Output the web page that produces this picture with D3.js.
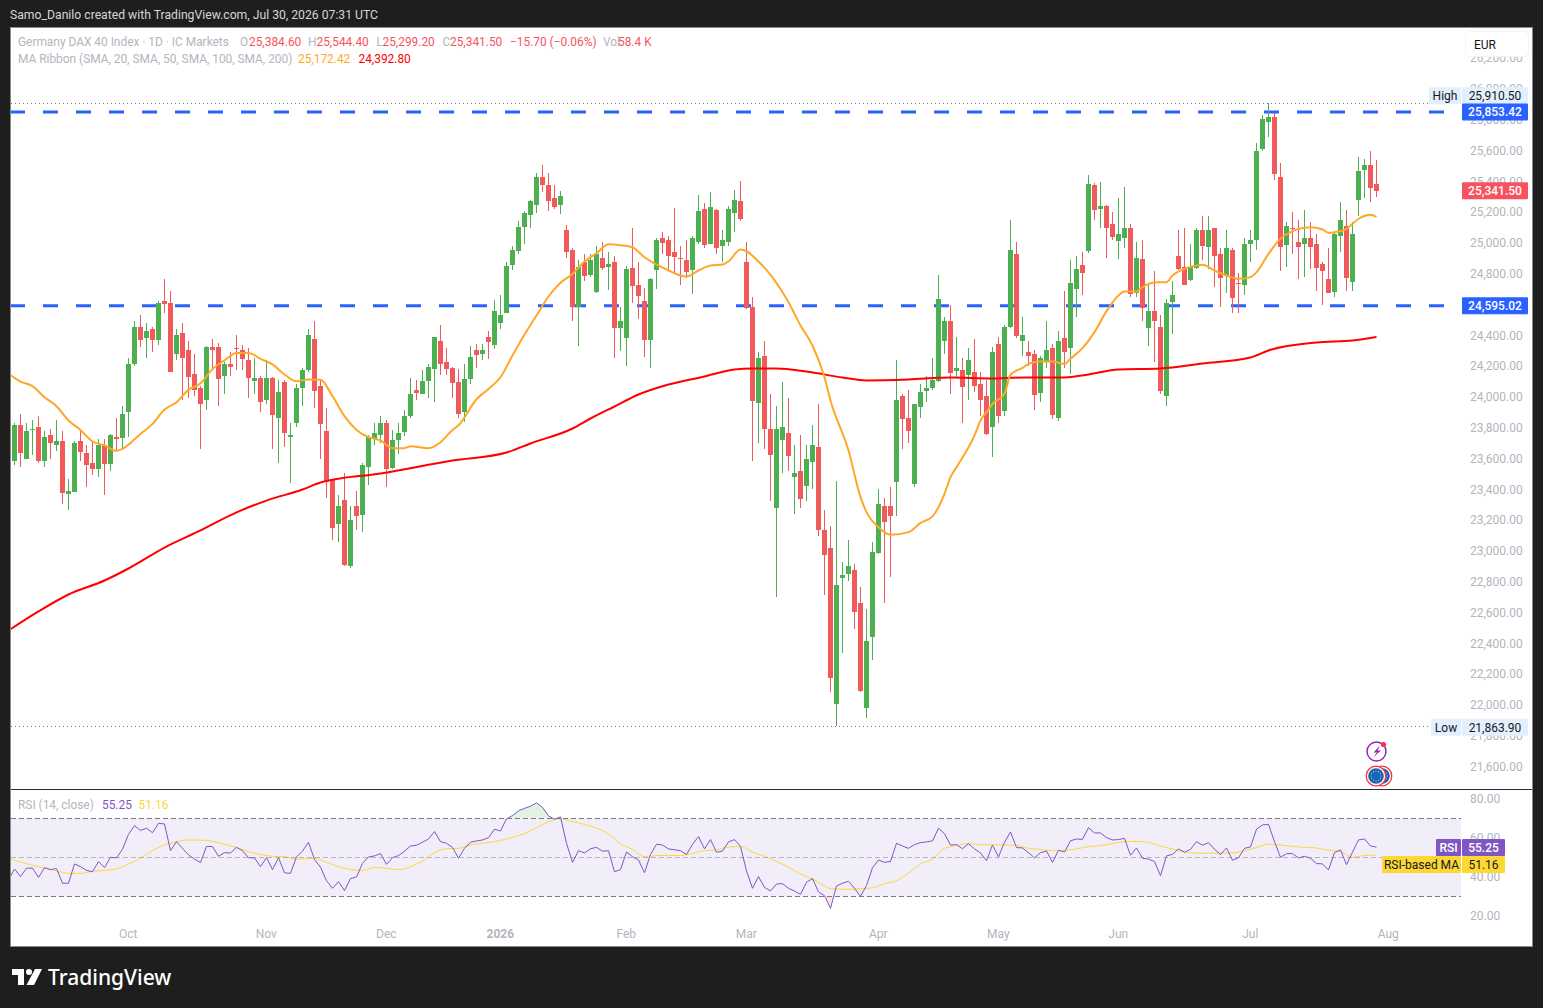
<!DOCTYPE html>
<html>
<head>
<meta charset="utf-8">
<script src="https://cdn.jsdelivr.net/npm/d3@7"></script>
<style>
  body { margin: 0; background: #1e1e1e; }
  svg { display: block; }
  text { font-family: Roboto, "Noto Sans", sans-serif; }
</style>
</head>
<body>
<div id="chart"></div>
<script>
//////////////////// data ////////////////////

var candleOpen = [
  23590,23824,23603,23792,23805,23590,23753,23694,23720,23376,
  23389,23714,23636,23571,23538,23694,23564,23746,23740,23902,
  24214,24460,24389,24441,24376,24623,24616,24285,24421,24311,
  24149,24064,23986,24330,24330,24136,24214,24318,24305,24240,
  24110,24123,23980,24123,23869,24097,23746,23831,24064,24175,
  24382,24071,23785,23467,23181,23337,22908,23292,23233,23545,
  23733,23759,23837,23545,23726,23772,23882,24045,24025,24109,
  24181,24363,24233,24194,24103,23908,24122,24311,24285,24389,
  24343,24486,24551,24856,24954,25109,25187,25252,25428,25382,
  25298,25252,25090,24960,24590,24882,24791,24681,24908,24850,
  24882,24454,24389,24843,24733,24629,24376,24830,25038,25019,
  24941,24902,24889,24824,25012,25226,24999,25220,24980,25012,
  25200,25278,24882,24584,23967,24272,23792,23279,23720,23766,
  23480,23525,23428,23584,23675,23136,23025,22006,22831,22856,
  22876,22668,21980,22441,22986,23298,23298,23454,24012,23863,
  23434,23941,24038,24058,24103,24363,24499,24168,24175,24149,
  24168,24090,24006,23805,24350,23915,24454,24928,24363,24292,
  24285,24025,24240,24324,23863,24383,24318,24707,24857,24947,
  25376,25220,25246,25123,25012,25038,25097,24675,24896,24454,
  24564,24454,24012,24616,24915,24850,24759,24837,25090,24973,
  25097,24934,24792,24954,24740,24727,24993,25025,25610,25792,
  25824,25434,24986,25103,25006,24999,25038,24999,24863,24772,
  24681,25051,25110,24753,25285,25473,25506,25384.6
];
var candleHigh = [
  23837,23889,23831,23856,23882,23785,23792,23856,23785,23467,
  23720,23785,23688,23720,23733,23727,23760,23869,23947,24259,
  24499,24538,24480,24454,24629,24772,24688,24447,24480,24363,
  24285,24077,24337,24382,24356,24227,24298,24408,24343,24318,
  24253,24142,24246,24130,24116,24110,23831,24084,24194,24441,
  24499,24116,23928,23473,23369,23506,23292,23389,23577,23759,
  23831,23882,23856,23791,23837,23921,24129,24116,24181,24220,
  24395,24473,24324,24200,24187,24220,24337,24350,24350,24434,
  24635,24668,24882,24980,25148,25213,25285,25454,25506,25454,
  25382,25343,25122,24967,24895,24934,24928,24986,25012,24941,
  24915,24584,24856,25097,24876,24713,24778,25032,25077,25045,
  25233,24980,25019,25051,25317,25265,25337,25225,25090,25246,
  25350,25402,25012,24655,24292,24363,24025,23947,24103,23993,
  23694,23759,23694,23818,23954,23266,23168,23460,22928,23077,
  22915,22772,22623,23058,23402,23350,23415,24246,24025,24045,
  23960,24090,24142,24253,24792,24519,24603,24389,24253,24324,
  24376,24162,24110,24330,24395,24473,25155,25012,24519,24363,
  24305,24272,24493,24344,24434,24694,24889,24915,24947,25441,
  25389,25396,25250,25201,25298,25363,25123,25006,25025,24740,
  24818,24538,24642,24753,25090,25103,24993,25097,25175,25181,
  25100,24967,25084,24967,24805,25038,25084,25655,25831,25910.5,
  25844,25525,25136,25201,25155,25214,25136,25058,24876,24973,
  25071,25266,25214,25136,25558,25551,25603,25544.4
];
var candleLow = [
  23558,23545,23600,23629,23577,23551,23597,23655,23311,23272,
  23385,23590,23415,23493,23486,23369,23525,23655,23668,23740,
  24207,24330,24259,24298,24343,24545,24162,24246,23980,23999,
  24012,23668,23915,24194,23941,24025,24136,24181,24175,23999,
  24025,23902,23960,23662,23571,23681,23447,23805,23941,24168,
  23928,23597,23350,23077,23064,22908,22889,23142,23129,23434,
  23688,23707,23421,23538,23635,23752,23863,23986,24019,23993,
  23967,24148,24148,23993,23869,23843,24090,24194,24246,24252,
  24317,24441,24545,24830,24934,24999,25097,25200,25337,25213,
  25226,25194,24902,24499,24337,24759,24785,24675,24830,24700,
  24259,24304,24207,24616,24512,24265,24194,24707,24934,24824,
  24804,24733,24778,24674,24993,24967,24995,24928,24876,24986,
  25077,25148,24571,23584,23701,23662,23330,22701,23512,23525,
  23240,23279,23330,23402,23103,22720,22084,21863.9,22343,22805,
  22499,22090,21921,22292,22980,22662,22837,23233,23662,23707,
  23415,23863,23973,24045,24097,24279,24019,24123,23837,23980,
  24038,23882,23753,23610,23837,23876,24450,24385,24266,24201,
  23921,23973,24188,23857,23850,24194,24155,24519,24662,24940,
  25155,25103,24902,25025,24896,24973,24655,24649,24499,24331,
  24227,24025,23941,24409,24825,24727,24755,24833,24889,24837,
  24720,24584,24675,24545,24551,24668,24876,24954,25603,25694,
  25409,24818,24850,24928,24772,24785,24831,24688,24603,24675,
  24649,24947,24688,24694,25181,25298,25266,25299.2
];
var candleClose = [
  23824,23642,23785,23798,23584,23746,23701,23720,23382,23395,
  23707,23642,23558,23532,23694,23571,23753,23733,23895,24214,
  24454,24376,24434,24369,24616,24603,24168,24408,24259,24136,
  24045,23960,24330,24311,24123,24214,24194,24311,24246,24123,
  24129,23967,24123,23882,24036,23766,23759,24058,24181,24402,
  24045,23824,23454,23149,23298,22915,23207,23227,23558,23740,
  23772,23837,23538,23726,23772,23876,24025,24025,24109,24200,
  24389,24213,24187,24097,23895,24122,24265,24278,24311,24356,
  24564,24538,24856,24954,25109,25200,25278,25434,25376,25278,
  25239,25311,24947,24590,24850,24791,24889,24928,24843,24869,
  24454,24499,24837,24726,24661,24376,24772,25025,25006,24915,
  24908,24895,24811,25032,25213,24993,25239,24973,25019,25226,
  25285,25161,24584,23973,24259,23798,23623,23792,23805,23616,
  23506,23343,23603,23694,23136,22973,22181,22779,22850,22908,
  22603,22097,22415,22993,23305,23194,23233,23986,23863,23779,
  23954,24038,24058,24110,24636,24493,24162,24188,24064,24246,
  24077,23986,23759,24292,23882,24460,24954,24395,24402,24266,
  24019,24253,24311,23889,24363,24292,24740,24837,24805,25383,
  25214,25240,25103,25038,25058,25103,24668,24902,24577,24564,
  24499,24038,24616,24662,24831,24733,24844,25084,24986,25084,
  24915,24779,24973,24642,24733,24993,25019,25603,25805,25824,
  25454,24980,25110,25097,24973,25038,24980,24844,24818,24681,
  25058,25155,24772,25064,25473,25506,25357.2,25341.5
];

// moving averages, read at the bars named in the Bars arrays
var sma20Bars = [-1,0,1,3,5,7,9,11,13,15,17,18,21,23,25,27,29,31,33,35,37,39,41,43,45,47,49,51,53,55,57,59,61,63,65,66,69,71,73,74,77,79,81,83,85,87,89,91,93,95,97,99,101,103,105,107,109,111,112,114,116,118,119,121,122,124,126,128,129,131,133,135,136,139,141,142,144,146,149,151,153,155,156,157,160,161,162,163,165,166,168,169,170,171,173,175,176,178,180,182,184,185,187,188,190,192,193,195,197,198,200,202,204,206,207,209,211,213,215,216,218,219,220,222,224,226,227];
var sma20Vals = [24155,24127,24103,24073,24001,23943,23850,23789,23714,23688,23653,23666,23763,23828,23921,23969,24049,24092,24185,24240,24289,24289,24250,24214,24149,24105,24116,24114,24008,23878,23789,23742,23720,23670,23670,23683,23670,23709,23789,23819,23988,24055,24131,24272,24408,24532,24655,24744,24802,24882,24936,24995,24988,24975,24910,24863,24824,24791,24785,24824,24856,24863,24884,24960,24949,24882,24796,24683,24618,24467,24337,24131,23980,23655,23352,23255,23157,23108,23125,23185,23227,23374,23482,23547,23753,23850,23904,23958,24023,24147,24192,24218,24229,24233,24233,24218,24251,24320,24424,24560,24662,24688,24688,24716,24746,24748,24792,24835,24857,24861,24824,24792,24770,24781,24813,24932,25030,25080,25101,25105,25090,25069,25073,25095,25160,25186,25172.42];
var sma200Bars = [-1,4,9,15,19,25,31,37,42,48,51,61,73,82,86,93,96,100,104,109,115,120,123,127,132,138,142,149,156,163,168,175,179,184,191,198,206,209,217,223,227];
var sma200Vals = [22486,22610,22720,22811,22889,23025,23136,23253,23330,23402,23447,23506,23590,23642,23701,23798,23863,23941,24019,24084,24136,24181,24188,24188,24168,24129,24110,24116,24129,24123,24129,24129,24149,24181,24188,24220,24259,24305,24357,24370,24392.8];

// RSI at every bar, the first value is the bar just off the left edge
var rsiVals = [38.5,
  44.0,40.1,44.4,44.5,39.7,44.7,43.7,44.2,36.7,36.7,
  46.6,45.2,43.3,42.6,47.8,44.7,50.0,49.7,54.1,61.8,
  66.2,63.8,64.9,62.6,67.4,67.1,53.4,58.0,54.6,51.2,
  49.1,47.3,55.6,55.5,50.5,52.4,52.2,55.1,53.4,49.8,
  49.7,45.2,49.8,43.7,49.8,42.0,41.8,50.2,53.2,57.7,
  48.8,44.9,38.0,34.1,37.5,32.9,39.1,39.9,46.9,50.2,
  50.7,51.9,46.4,49.8,50.9,53.1,55.8,56.2,57.7,59.4,
  63.2,58.0,57.2,55.1,49.5,54.6,57.7,58.4,58.9,60.1,
  64.4,63.5,69.7,71.4,73.8,75.1,76.2,77.9,75.6,71.2,
  69.5,70.7,57.2,47.4,53.4,52.2,54.4,55.1,53.1,53.4,
  42.6,43.7,52.7,50.3,48.6,42.1,51.5,56.7,56.3,54.3,
  53.9,53.4,51.4,56.7,60.6,54.3,59.1,52.6,53.2,57.9,
  59.1,55.6,43.0,34.1,40.1,34.6,32.7,36.3,36.5,34.1,
  32.7,31.0,37.2,39.1,32.2,30.3,23.8,35.3,36.7,37.7,
  34.1,30.0,35.5,44.7,48.6,47.4,47.9,57.2,55.8,54.6,
  56.5,57.5,57.9,58.4,64.9,62.1,56.3,56.5,54.4,57.0,
  54.3,52.2,48.3,56.3,50.2,57.7,63.0,55.0,54.8,52.4,
  49.7,52.4,53.2,47.4,53.6,52.7,58.5,59.4,59.2,65.2,
  62.5,62.5,60.1,58.9,59.1,59.7,51.0,54.8,49.5,49.1,
  47.8,40.6,50.7,51.5,54.3,52.6,54.1,58.0,56.2,57.5,
  54.1,51.4,54.8,48.5,49.8,54.6,55.3,64.4,66.6,66.9,
  58.0,50.0,51.9,51.9,49.7,50.5,49.5,46.8,46.6,43.5,
  52.4,53.8,46.2,52.7,58.9,59.4,55.8,55.25
];
var rsiMaBars = [-1,1,3,5,7,9,11,13,15,17,19,21,23,25,27,29,32,34,37,39,41,43,45,47,50,52,54,56,58,60,62,64,66,68,70,72,74,76,78,80,82,84,85,87,89,91,93,95,97,99,101,103,105,107,109,111,113,115,117,119,121,123,125,127,129,131,133,135,136,138,141,143,145,147,149,151,153,155,157,159,161,163,165,167,169,171,173,175,177,179,181,183,185,187,189,191,193,195,197,199,201,203,205,207,209,211,213,215,217,219,221,223,225,227];
var rsiMaVals = [49.3,47.6,45.9,44.4,43.0,41.8,41.8,42.8,43.3,44.0,46.6,49.5,53.4,56.3,58.0,58.9,58.7,57.4,55.0,52.9,51.5,50.5,50.3,49.0,49.5,47.4,45.2,43.7,43.3,44.7,44.4,43.7,45.2,48.1,52.4,54.4,54.6,56.3,57.2,58.0,59.4,61.1,62.1,65.2,68.3,69.8,68.3,66.9,64.9,62.0,56.8,54.1,50.3,50.9,51.0,50.9,52.1,53.4,53.8,55.3,55.5,52.7,50.5,47.9,44.9,41.3,38.9,35.3,33.9,33.6,33.9,34.3,36.5,38.0,41.8,46.6,49.1,54.6,56.0,57.0,56.5,56.5,56.3,56.2,54.6,54.1,53.4,53.6,54.3,55.5,56.0,57.0,58.0,58.2,57.7,55.8,54.3,52.7,52.1,52.1,52.1,52.2,53.4,55.0,56.8,56.3,55.6,55.1,54.8,53.6,52.9,50.0,50.9,51.16];

var priceTicks = [21600,21800,22000,22200,22400,22600,22800,23000,23200,23400,23600,23800,24000,24200,24400,24600,24800,25000,25200,25400,25600,25800,26000,26200];
var rsiTicks = [20,40,60,80];
var rsiLevels = [70,50,30];
var monthBars = [19,42,62,81,102,122,144,164,184,206,229];
var monthLabels = ["Oct","Nov","Dec","2026","Feb","Mar","Apr","May","Jun","Jul","Aug"];

var highLevel = 25910.5;
var lowLevel = 21863.9;
var blueLevels = [25853.42, 24595.02];
var lastClose = 25341.5;
var lastRsi = 55.25;
var lastRsiMa = 51.16;

//////////////////// set up the svg ////////////////////

var svgWidth = 1543;
var svgHeight = 1008;
var up = "#4caf50";
var down = "#f05a5a";
var axisGrey = "#b2b5be";

var svg = d3.select("#chart").append("svg")
  .attr("width", svgWidth)
  .attr("height", svgHeight);

svg.append("rect")
  .attr("x", 10.5).attr("y", 27.5)
  .attr("width", 1522).attr("height", 919)
  .attr("fill", "#fff")
  .attr("stroke", "#8a8a8a");

var defs = svg.append("defs");
defs.append("clipPath").attr("id", "mainClip").append("rect")
  .attr("x", 11).attr("y", 28).attr("width", 1450).attr("height", 761);
defs.append("clipPath").attr("id", "rsiClip").append("rect")
  .attr("x", 11).attr("y", 790).attr("width", 1450).attr("height", 156);
defs.append("clipPath").attr("id", "aboveClip").append("rect")
  .attr("x", 11).attr("y", 790).attr("width", 1450).attr("height", 28.3);
defs.append("clipPath").attr("id", "belowClip").append("rect")
  .attr("x", 11).attr("y", 896.3).attr("width", 1450).attr("height", 40);

var xScale = d3.scaleLinear().domain([0, 227]).range([14.5, 1376.5]);
var yScale = d3.scaleLinear().domain([21600, 25600]).range([767, 151]);
var rsiScale = d3.scaleLinear().domain([20, 80]).range([915.8, 798.8]);

//////////////////// candles ////////////////////

var mainPane = svg.append("g").attr("clip-path", "url(#mainClip)");

// level lines under the candles
mainPane.selectAll(".extreme")
  .data([highLevel, lowLevel])
  .enter()
  .append("line")
  .attr("x1", 11).attr("x2", 1429)
  .attr("y1", d => Math.round(yScale(d)) + 0.5)
  .attr("y2", d => Math.round(yScale(d)) + 0.5)
  .attr("stroke", "#787b86")
  .attr("stroke-dasharray", "1,3");

mainPane.selectAll(".blue")
  .data(blueLevels)
  .enter()
  .append("line")
  .attr("x1", 10).attr("x2", 1460)
  .attr("y1", d => yScale(d))
  .attr("y2", d => yScale(d))
  .attr("stroke", "#2962ff")
  .attr("stroke-width", 3)
  .attr("stroke-dasharray", "15,18");

var bars = d3.range(candleOpen.length);
var barColor = i => candleClose[i] >= candleOpen[i] ? up : down;

mainPane.selectAll(".wick")
  .data(bars)
  .enter()
  .append("rect")
  .attr("x", i => Math.floor(xScale(i)))
  .attr("width", 1)
  .attr("y", i => Math.round(yScale(candleHigh[i])))
  .attr("height", i => Math.max(1, Math.round(yScale(candleLow[i])) - Math.round(yScale(candleHigh[i]))))
  .attr("fill", barColor)
  .attr("shape-rendering", "crispEdges");

mainPane.selectAll(".body")
  .data(bars)
  .enter()
  .append("rect")
  .attr("x", i => xScale(i) - 2.5)
  .attr("width", 5)
  .attr("y", i => Math.round(yScale(Math.max(candleOpen[i], candleClose[i]))))
  .attr("height", i => Math.max(1, Math.round(Math.abs(yScale(candleOpen[i]) - yScale(candleClose[i])))))
  .attr("fill", barColor)
  .attr("shape-rendering", "crispEdges");

var maLine = d3.line()
  .x(d => xScale(d[0]))
  .y(d => yScale(d[1]))
  .curve(d3.curveMonotoneX);

mainPane.append("path")
  .attr("d", maLine(d3.zip(sma200Bars, sma200Vals)))
  .attr("fill", "none")
  .attr("stroke", "#ff0000")
  .attr("stroke-width", 2);

mainPane.append("path")
  .attr("d", maLine(d3.zip(sma20Bars, sma20Vals)))
  .attr("fill", "none")
  .attr("stroke", "#ffa726")
  .attr("stroke-width", 2);

//////////////////// RSI pane ////////////////////

var rsiPane = svg.append("g").attr("clip-path", "url(#rsiClip)");

rsiPane.append("rect")
  .attr("x", 11).attr("width", 1450)
  .attr("y", rsiScale(70))
  .attr("height", rsiScale(30) - rsiScale(70))
  .attr("fill", "#7e57c2")
  .attr("fill-opacity", 0.1);

var rsiPoints = rsiVals.map((v, i) => [i - 1, v]);

var aboveGrad = defs.append("linearGradient").attr("id", "aboveGrad").attr("x1", 0).attr("x2", 0).attr("y1", 0).attr("y2", 1);
aboveGrad.append("stop").attr("offset", "0%").attr("stop-color", up).attr("stop-opacity", 0.18);
aboveGrad.append("stop").attr("offset", "100%").attr("stop-color", up).attr("stop-opacity", 0);
var belowGrad = defs.append("linearGradient").attr("id", "belowGrad").attr("x1", 0).attr("x2", 0).attr("y1", 0).attr("y2", 1);
belowGrad.append("stop").attr("offset", "0%").attr("stop-color", down).attr("stop-opacity", 0);
belowGrad.append("stop").attr("offset", "100%").attr("stop-color", down).attr("stop-opacity", 0.18);

rsiPane.append("path")
  .attr("clip-path", "url(#aboveClip)")
  .attr("d", d3.area().x(d => xScale(d[0])).y0(rsiScale(70)).y1(d => rsiScale(d[1]))(rsiPoints))
  .attr("fill", "url(#aboveGrad)");

rsiPane.append("path")
  .attr("clip-path", "url(#belowClip)")
  .attr("d", d3.area().x(d => xScale(d[0])).y0(rsiScale(30)).y1(d => rsiScale(d[1]))(rsiPoints))
  .attr("fill", "url(#belowGrad)");

svg.selectAll(".rsiLevel")
  .data(rsiLevels)
  .enter()
  .append("line")
  .attr("x1", 11).attr("x2", 1461)
  .attr("y1", d => Math.round(rsiScale(d)) + 0.5)
  .attr("y2", d => Math.round(rsiScale(d)) + 0.5)
  .attr("stroke", "#787b86")
  .attr("stroke-opacity", d => d == 50 ? 0.5 : 1)
  .attr("stroke-dasharray", "5,3");

rsiPane.append("path")
  .attr("d", d3.line().x(d => xScale(d[0])).y(d => rsiScale(d[1])).curve(d3.curveMonotoneX)(d3.zip(rsiMaBars, rsiMaVals)))
  .attr("fill", "none")
  .attr("stroke", "#fdd835")
  .attr("stroke-width", 1);

rsiPane.append("path")
  .attr("d", d3.line().x(d => xScale(d[0])).y(d => rsiScale(d[1]))(rsiPoints))
  .attr("fill", "none")
  .attr("stroke", "#7e57c2")
  .attr("stroke-width", 1);

// pane divider
svg.append("line")
  .attr("x1", 11).attr("x2", 1532)
  .attr("y1", 789.5).attr("y2", 789.5)
  .attr("stroke", "#2a2e39");

//////////////////// axes ////////////////////

var priceAxis = d3.axisRight(yScale)
  .tickValues(priceTicks)
  .tickSize(0)
  .tickPadding(9)
  .tickFormat(d3.format(",.2f"));

var rsiAxis = d3.axisRight(rsiScale)
  .tickValues(rsiTicks)
  .tickSize(0)
  .tickPadding(9)
  .tickFormat(d3.format(".2f"));

var timeAxis = d3.axisBottom(xScale)
  .tickValues(monthBars)
  .tickSize(0)
  .tickPadding(0)
  .tickFormat((d, i) => monthLabels[i]);

var priceG = svg.append("g").attr("transform", "translate(1461,-0.5)").call(priceAxis);
var rsiG = svg.append("g").attr("transform", "translate(1461,0)").call(rsiAxis);
var timeG = svg.append("g").attr("transform", "translate(-0.7,929)").call(timeAxis);

[priceG, rsiG, timeG].forEach(function (g) {
  g.select(".domain").remove();
  g.selectAll("text")
    .attr("fill", axisGrey)
    .attr("font-size", 12)
    .style("font-family", 'Roboto, "Noto Sans", sans-serif');
});
timeG.selectAll("text").filter(d => d == 81).attr("font-weight", "bold");

//////////////////// price labels on the axis ////////////////////

function addLabel(y, x1, x2, fill, textFill, label, bold) {
  svg.append("rect")
    .attr("x", x1).attr("width", x2 - x1)
    .attr("y", y - 8.5).attr("height", 17)
    .attr("fill", fill)
    .attr("rx", 1);
  svg.append("text")
    .attr("x", x1 + (x2 - x1) / 2)
    .attr("y", y + 4.5)
    .attr("text-anchor", "middle")
    .attr("font-size", 12)
    .attr("font-weight", bold ? "500" : "normal")
    .attr("fill", textFill)
    .text(label);
}

var fmt = d3.format(",.2f");
var paleBlue = "#e3effd";

// the high label sits just above the blue level label
addLabel(yScale(highLevel) - 7.5, 1429, 1461, paleBlue, "#131722", "High");
addLabel(yScale(highLevel) - 7.5, 1462, 1528, paleBlue, "#131722", fmt(highLevel));
addLabel(yScale(lowLevel) + 1, 1431, 1461, paleBlue, "#131722", "Low");
addLabel(yScale(lowLevel) + 1, 1462, 1528, paleBlue, "#131722", fmt(lowLevel));
blueLevels.forEach(function (d) {
  addLabel(yScale(d), 1462, 1528, "#2962ff", "#fff", fmt(d), true);
});
addLabel(yScale(lastClose), 1462, 1528, "#f7525f", "#fff", fmt(lastClose), true);

addLabel(847.5, 1436, 1461, "#7e57c2", "#fff", "RSI", true);
addLabel(847.5, 1462, 1505, "#7e57c2", "#fff", lastRsi.toFixed(2), true);
addLabel(864.5, 1382, 1461, "#fdd835", "#131722", "RSI-based MA");
addLabel(864.5, 1462, 1505, "#fdd835", "#131722", lastRsiMa.toFixed(2));

// currency button
svg.append("rect")
  .attr("x", 1465.5).attr("y", 31.5)
  .attr("width", 63).attr("height", 25)
  .attr("rx", 4)
  .attr("fill", "#fff")
  .attr("stroke", "#f0f3fa");
svg.append("text")
  .attr("x", 1474).attr("y", 49)
  .attr("font-size", 12)
  .attr("fill", "#131722")
  .text("EUR");

//////////////////// legend text ////////////////////

function legend(x, y, label, color) {
  svg.append("text")
    .attr("x", x).attr("y", y)
    .attr("font-size", 11.9)
    .attr("fill", color)
    .text(label);
}

var red = "#f7525f";
legend(18, 46, "Germany DAX 40 Index · 1D · IC Markets", axisGrey);
legend(240, 46, "O", axisGrey);
legend(249, 46, "25,384.60", red);
legend(308, 46, "H", axisGrey);
legend(316.5, 46, "25,544.40", red);
legend(376.5, 46, "L", axisGrey);
legend(382.5, 46, "25,299.20", red);
legend(442.5, 46, "C", axisGrey);
legend(450, 46, "25,341.50", red);
legend(510, 46, "−15.70 (−0.06%)", red);
legend(603, 46, "Vol", axisGrey);
legend(618, 46, "58.4 K", red);
legend(18, 63, "MA Ribbon (SMA, 20, SMA, 50, SMA, 100, SMA, 200)", axisGrey);
legend(298, 63, "25,172.42", "#ffa726");
legend(358.5, 63, "24,392.80", "#ff0000");
legend(18, 809, "RSI (14, close)", axisGrey);
legend(102, 809, "55.25", "#7e57c2");
legend(138.5, 809, "51.16", "#fdd835");

svg.append("text")
  .attr("x", 10).attr("y", 18.5)
  .attr("font-size", 12.2)
  .attr("fill", "#d6d6d6")
  .text("Samo_Danilo created with TradingView.com, Jul 30, 2026 07:31 UTC");

//////////////////// small icons ////////////////////

var bolt = svg.append("g").attr("transform", "translate(1376.5,751.5)");
bolt.append("circle").attr("r", 9.5).attr("fill", "#fff").attr("stroke", "#9c27b0").attr("stroke-width", 1.5);
bolt.append("path").attr("d", "M3.5,-6 L-3,1 L0.5,1 L-3.5,6 L4.5,-1 L1,-1 Z").attr("fill", "#9c27b0");
bolt.append("circle").attr("cx", 7).attr("cy", -7).attr("r", 2.6).attr("fill", "#f7324a");

[1382, 1376].forEach(function (cx) {
  var flag = svg.append("g").attr("transform", `translate(${cx},776)`);
  flag.append("circle").attr("r", 9.8).attr("fill", "#fff").attr("stroke", "#f23645").attr("stroke-width", 1.3);
  flag.append("circle").attr("r", 7.8).attr("fill", "#1565c0");
  d3.range(12).forEach(function (s) {
    flag.append("circle")
      .attr("cx", 5 * Math.cos(s * Math.PI / 6))
      .attr("cy", 5 * Math.sin(s * Math.PI / 6))
      .attr("r", 0.6)
      .attr("fill", "#fdd835");
  });
});

//////////////////// footer logo ////////////////////

var logo = svg.append("g").attr("transform", "translate(12,969)").attr("fill", "#fff");
logo.append("path").attr("d", "M0,0 H12 V16 H6 V6 H0 Z");
logo.append("circle").attr("cx", 17).attr("cy", 3).attr("r", 3);
logo.append("path").attr("d", "M23,0 H30 L22,16 H14.5 Z");

svg.append("text")
  .attr("x", 48).attr("y", 985)
  .attr("font-size", 21)
  .attr("font-weight", 500)
  .attr("fill", "#fff")
  .style("font-family", '"Noto Sans", sans-serif')
  .text("TradingView");
</script>
</body>
</html>
